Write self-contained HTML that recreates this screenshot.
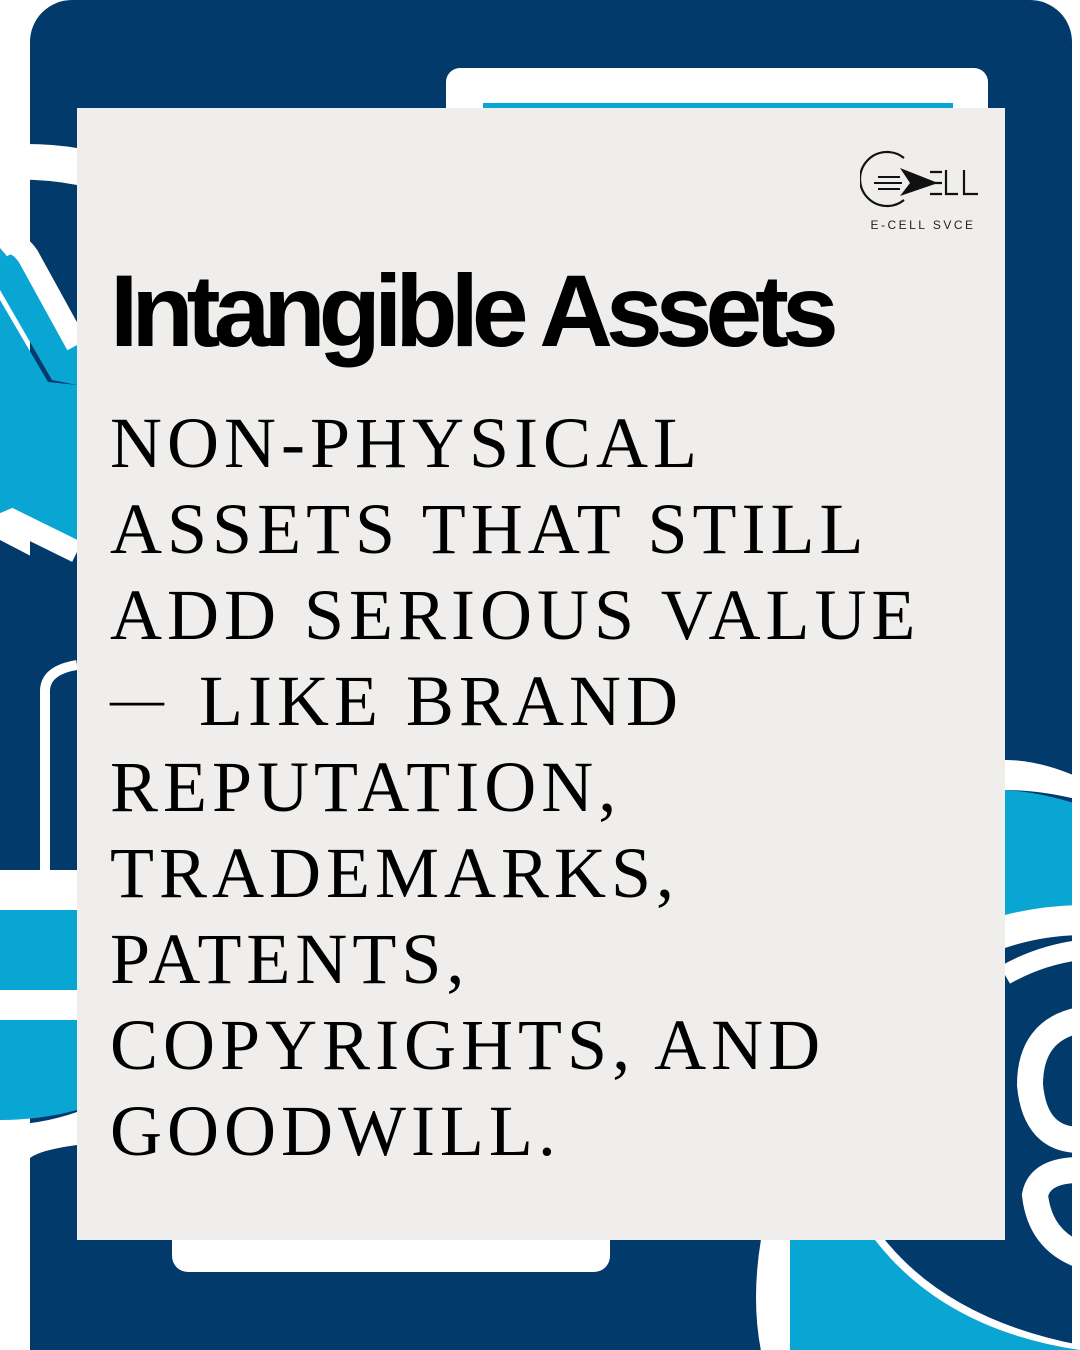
<!DOCTYPE html>
<html><head><meta charset="utf-8"><style>
html,body{margin:0;padding:0;background:#fff;}
#wrap{position:relative;width:1080px;height:1350px;overflow:hidden;}
svg.bg{position:absolute;left:0;top:0;}
#card{position:absolute;left:77px;top:108px;width:928px;height:1132px;background:#efeeec;}
#title{position:absolute;left:110px;top:260px;font-family:"Liberation Sans",sans-serif;font-weight:bold;font-size:102px;letter-spacing:-7px;color:#000;white-space:nowrap;line-height:1;}
#body{position:absolute;left:110px;top:400px;font-family:"Liberation Serif",serif;font-size:72px;letter-spacing:5px;color:#000;white-space:nowrap;}
#body div{height:86px;line-height:86px;overflow:visible;}
#body .dash{font-size:54px;letter-spacing:12px;line-height:0;position:relative;top:-8px;}
#logo{position:absolute;left:860px;top:150px;width:135px;height:90px;}
</style></head><body>
<div id="wrap">
<svg class="bg" width="1080" height="1350">
  <rect x="30" y="0" width="1042" height="1400" rx="42" fill="#023a6b"/>
  <path d="M0,145 Q40,142 77,148 L77,185 Q40,178 0,180 Z" fill="#fff"/>
  <path d="M0,290 L0,240 Q12,230 30,250 L77,340 L77,385 L52,380 Z" fill="#0aa6d3"/>
  <path d="M0,248 Q14,236 28,256 L77,345" stroke="#fff" stroke-width="22" fill="none"/>
  <path d="M0,300 L0,520 L77,545 L77,385 L48,382 Z" fill="#0aa6d3"/>
  <path d="M0,525 L12,520 L77,552" stroke="#fff" stroke-width="22" fill="none"/>
  <path d="M0,540 L77,580 L77,660 L50,670 L45,870 L0,870 Z" fill="#023a6b"/>
  <path d="M45,870 L45,690 Q46,670 77,665" stroke="#fff" stroke-width="10" fill="none"/>
  <rect x="0" y="870" width="77" height="40" fill="#fff"/>
  <rect x="0" y="910" width="77" height="80" fill="#0aa6d3"/>
  <rect x="0" y="990" width="77" height="30" fill="#fff"/>
  <path d="M0,1020 L77,1020 L77,1110 Q40,1120 0,1120 Z" fill="#0aa6d3"/>
  <path d="M0,1125 Q40,1125 77,1112 L77,1145 Q40,1150 30,1158 L0,1160 Z" fill="#fff"/>
  <rect x="446" y="68" width="542" height="60" rx="14" fill="#fff"/>
  <rect x="483" y="103" width="470" height="6" fill="#0aa6d3"/>
  <path d="M1005,760 Q1040,760 1080,778 L1080,800 Q1040,790 1005,790 Z" fill="#fff"/>
  <path d="M1005,790 Q1040,792 1080,805 L1080,905 Q1040,908 1005,915 Z" fill="#0aa6d3"/>
  <path d="M1005,915 Q1040,906 1080,905 L1080,935 Q1040,936 1005,948 Z" fill="#fff"/>
  <path d="M1005,975 Q1040,955 1080,950" stroke="#fff" stroke-width="20" fill="none"/>
  <path d="M1080,1020 Q1030,1030 1030,1085 Q1035,1140 1080,1140" stroke="#fff" stroke-width="26" fill="none"/>
  <path d="M1080,1170 Q1040,1170 1035,1195 Q1040,1240 1080,1255" stroke="#fff" stroke-width="26" fill="none"/>
  <rect x="1072" y="0" width="8" height="1350" fill="#fff"/>
  <rect x="172" y="1225" width="438" height="47" rx="16" fill="#fff"/>
  <path d="M770,1240 L885,1240 Q950,1320 1080,1345 L1080,1350 L770,1350 Z" fill="#fff"/>
  <path d="M790,1240 L875,1240 Q945,1330 1080,1350 L790,1350 Z" fill="#0aa6d3"/>
  <path d="M770,1240 Q760,1300 770,1350" stroke="#fff" stroke-width="18" fill="none"/>
</svg>
<div id="card"></div>
<svg id="logo" viewBox="0 0 135 90">
  <path d="M44,8 A27,27 0 1 0 44,50" stroke="#111" stroke-width="2.2" fill="none"/>
  <path d="M18,27 H40 M14,33 H42 M18,39 H40" stroke="#111" stroke-width="2"/>
  <path d="M40,18 L78,33 L40,46 L50,33 Z" fill="#111"/>
  <path d="M70,22 H82 M70,33 H82 M70,44 H82 M86,20 V44 H98 M104,20 V44 H118" stroke="#111" stroke-width="2.2" fill="none"/>
  <text x="63" y="79" text-anchor="middle" font-family="Liberation Sans, sans-serif" font-size="12" letter-spacing="2.5" fill="#222">E-CELL SVCE</text>
</svg>
<div id="title">Intangible Assets</div>
<div id="body">
<div>NON-PHYSICAL</div>
<div>ASSETS THAT STILL</div>
<div>ADD SERIOUS VALUE</div>
<div><span class="dash">—</span> LIKE BRAND</div>
<div>REPUTATION,</div>
<div>TRADEMARKS,</div>
<div>PATENTS,</div>
<div>COPYRIGHTS, AND</div>
<div>GOODWILL.</div>
</div>
</div>
</body></html>
